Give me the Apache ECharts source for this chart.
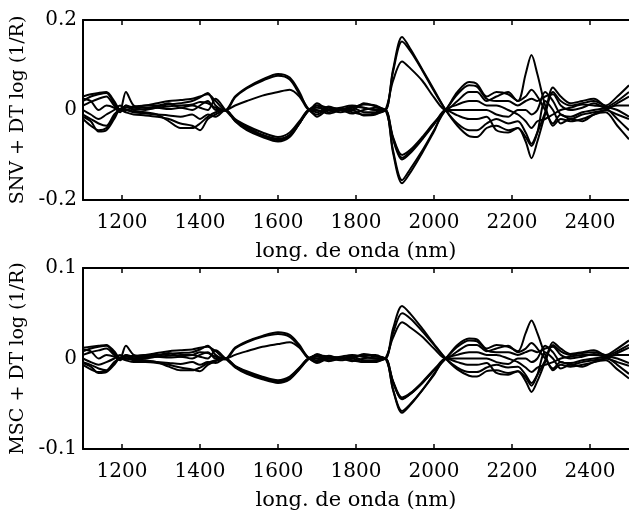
<!DOCTYPE html>
<html><head><meta charset="utf-8">
<script src="https://cdn.jsdelivr.net/npm/echarts@6/dist/echarts.min.js"></script>
<style>html,body{margin:0;padding:0;background:#fff}#c{width:629px;height:512px}</style>
</head><body><div id="c"></div>
<script>
// wavelength nodes (nm)
const wavelengths = [1100,1120,1140,1160,1180,1195,1210,1230,1260,1290,1320,1350,1380,1400,1420,1440,1465,1490,1520,1560,1600,1630,1655,1680,1700,1730,1760,1790,1820,1850,1875,1895,1918,1940,1970,2000,2030,2060,2090,2110,2135,2160,2190,2215,2235,2250,2265,2285,2305,2325,2350,2380,2410,2440,2470,2500];

// SNV + DT spectra (top panel)
const snv1 = [0.03,0.035,0.038,0.04,0.02,0.002,0.005,0.008,0.01,0.015,0.02,0.022,0.025,0.03,0.035,0.02,0,0.03,0.05,0.068,0.08,0.072,0.04,0.002,0.01,0.005,0,0.005,0.012,0.01,0,0.09,0.162,0.135,0.09,0.045,0,-0.035,-0.058,-0.06,-0.04,-0.035,-0.045,-0.04,-0.07,-0.107,-0.07,-0.01,0.04,0.02,0.01,0.015,0.02,0.01,0.03,0.055];
const snv2 = [0.02,0.03,0.035,0.038,0.015,0,0.04,0.01,0.005,0.008,0.012,0.015,0.02,0.028,0.038,0.01,-0.002,0.028,0.048,0.065,0.076,0.068,0.035,0,-0.01,0.005,0.003,0,0.015,0.008,0,0.085,0.152,0.13,0.088,0.042,0,-0.03,-0.045,-0.045,-0.03,-0.02,-0.03,-0.025,-0.05,-0.075,-0.05,-0.005,0.05,0.03,0.015,0.02,0.025,0.008,0,-0.015];
const snv3 = [0.01,0.018,0.025,0.03,0.01,0,0.01,0,0.002,0.005,0.008,0.01,0.012,0.018,0.015,0.005,0,0.01,0.02,0.032,0.04,0.045,0.03,0,0.015,0,0.002,-0.005,-0.01,-0.008,0,0.065,0.108,0.092,0.065,0.028,0,0.02,0.04,0.04,0.02,0.03,0.04,0.02,0.03,0.045,0.03,0,-0.03,-0.01,-0.02,-0.01,-0.005,0,0.015,0.03];
const snv4 = [-0.01,-0.02,-0.03,-0.035,-0.01,0,0,-0.005,-0.008,-0.01,-0.012,-0.015,-0.01,-0.02,-0.01,-0.015,0,-0.02,-0.035,-0.05,-0.06,-0.05,-0.025,0,-0.005,0.008,0,0.008,0.005,0,0,-0.06,-0.1,-0.088,-0.06,-0.028,0,0.04,0.062,0.058,0.03,0.04,0.035,0.02,0.08,0.122,0.08,0.01,-0.035,-0.02,-0.025,-0.02,-0.01,0,-0.01,-0.02];
const snv5 = [0,-0.01,-0.02,-0.01,0,0.01,0,0.005,0,0.005,0.002,0.005,0,0.01,0.02,0,0,-0.022,-0.038,-0.055,-0.064,-0.055,-0.028,0,0.01,-0.005,0,-0.008,0,0.005,0,-0.063,-0.106,-0.092,-0.063,-0.03,0,0.035,0.055,0.052,0.025,0.02,0.02,0.01,0.02,0.025,0.02,0.03,0.035,0.01,0,0.005,0.015,0.005,0.01,0.01];
const snv6 = [-0.02,-0.035,-0.045,-0.04,-0.015,0,-0.005,-0.01,-0.012,-0.015,-0.02,-0.03,-0.035,-0.045,-0.02,-0.01,0,-0.024,-0.042,-0.058,-0.067,-0.058,-0.03,0,-0.015,0,-0.005,0,-0.012,-0.01,0,-0.09,-0.156,-0.13,-0.09,-0.045,0,0.012,0.02,0.02,0.01,0.01,0,-0.01,-0.025,-0.04,-0.025,-0.02,-0.01,0,0.005,0.012,0.01,0.005,-0.02,-0.045];
const snv7 = [-0.015,-0.025,-0.048,-0.045,-0.02,0,0,-0.003,-0.005,-0.01,-0.025,-0.04,-0.04,-0.03,-0.015,-0.005,0,-0.025,-0.045,-0.06,-0.07,-0.06,-0.03,0,0.005,0,0.005,0.01,0.005,0,0,-0.095,-0.163,-0.138,-0.095,-0.048,0,-0.012,-0.02,-0.02,-0.015,-0.045,-0.05,-0.04,-0.06,-0.08,-0.05,0.02,0,-0.03,-0.02,-0.025,-0.01,-0.005,-0.035,-0.065];
const snv8 = [0.025,0.02,0,0.01,0.005,-0.005,0.01,0.005,0.01,0.01,0.015,0.005,0.01,0.005,0,0.025,0,-0.023,-0.04,-0.057,-0.065,-0.056,-0.03,0,0,-0.008,0,0.005,-0.005,-0.005,0,-0.065,-0.11,-0.095,-0.065,-0.032,0,0,0,0,0,-0.01,-0.015,0,0,-0.01,0,0.04,0.02,-0.01,-0.015,-0.005,0,0.005,0.02,0.04];

// MSC + DT spectra (bottom panel)
const msc1 = [0.012,0.013,0.014,0.015,0.008,0.001,0.002,0.003,0.004,0.006,0.008,0.009,0.01,0.012,0.013,0.008,0,0.012,0.019,0.025,0.029,0.026,0.015,0.001,0.004,0.002,0,0.002,0.004,0.004,0,0.033,0.058,0.049,0.033,0.016,0,-0.012,-0.019,-0.02,-0.014,-0.013,-0.016,-0.014,-0.025,-0.037,-0.025,-0.004,0.015,0.008,0.004,0.006,0.007,0.004,0.011,0.02];
const msc2 = [0.008,0.011,0.013,0.014,0.006,0,0.014,0.004,0.002,0.003,0.005,0.006,0.007,0.01,0.014,0.004,-0.001,0.011,0.018,0.024,0.027,0.024,0.013,0,-0.004,0.002,0.001,0,0.005,0.003,0,0.028,0.05,0.044,0.03,0.015,0,-0.01,-0.015,-0.015,-0.01,-0.007,-0.01,-0.009,-0.018,-0.027,-0.018,-0.002,0.018,0.011,0.005,0.007,0.009,0.003,0,-0.005];
const msc3 = [0.004,0.007,0.009,0.011,0.004,0,0.004,0,0.001,0.002,0.003,0.004,0.004,0.007,0.006,0.002,0,0.004,0.008,0.013,0.016,0.018,0.012,0,0.005,0,0.001,-0.002,-0.004,-0.003,0,0.023,0.04,0.034,0.024,0.011,0,0.008,0.015,0.015,0.008,0.011,0.014,0.007,0.011,0.017,0.011,0,-0.011,-0.004,-0.007,-0.004,-0.002,0,0.006,0.012];
const msc4 = [-0.004,-0.007,-0.011,-0.013,-0.004,0,0,-0.002,-0.003,-0.004,-0.005,-0.006,-0.004,-0.007,-0.004,-0.005,0,-0.008,-0.014,-0.02,-0.024,-0.02,-0.01,0,-0.002,0.003,0,0.003,0.002,0,0,-0.025,-0.043,-0.038,-0.026,-0.012,0,0.015,0.022,0.021,0.011,0.015,0.013,0.008,0.028,0.042,0.028,0.004,-0.013,-0.007,-0.009,-0.007,-0.004,0,-0.004,-0.008];
const msc5 = [0,-0.004,-0.007,-0.004,0,0.004,0,0.002,0,0.002,0.001,0.002,0,0.004,0.007,0,0,-0.009,-0.015,-0.021,-0.025,-0.021,-0.011,0,0.004,-0.002,0,-0.003,0,0.002,0,-0.026,-0.045,-0.039,-0.027,-0.013,0,0.013,0.02,0.019,0.009,0.007,0.007,0.004,0.007,0.009,0.007,0.011,0.013,0.004,0,0.002,0.005,0.002,0.004,0.004];
const msc6 = [-0.007,-0.012,-0.015,-0.014,-0.005,0,-0.002,-0.004,-0.004,-0.005,-0.007,-0.01,-0.012,-0.014,-0.007,-0.003,0,-0.009,-0.016,-0.022,-0.026,-0.022,-0.011,0,-0.005,0,-0.002,0,-0.004,-0.004,0,-0.034,-0.058,-0.05,-0.035,-0.017,0,0.004,0.007,0.007,0.004,0.004,0,-0.004,-0.01,-0.015,-0.01,-0.007,-0.004,0,0.002,0.004,0.004,0.002,-0.007,-0.017];
const msc7 = [-0.005,-0.009,-0.016,-0.015,-0.007,0,0,-0.001,-0.002,-0.004,-0.009,-0.013,-0.013,-0.01,-0.005,-0.002,0,-0.01,-0.017,-0.023,-0.027,-0.023,-0.012,0,0.002,0,0.002,0.004,0.002,0,0,-0.035,-0.06,-0.051,-0.035,-0.018,0,-0.004,-0.007,-0.007,-0.005,-0.016,-0.018,-0.014,-0.021,-0.03,-0.018,0.007,0,-0.011,-0.007,-0.009,-0.004,-0.002,-0.012,-0.022];
const msc8 = [0.01,0.008,0,0.004,0.002,-0.002,0.004,0.002,0.004,0.004,0.006,0.002,0.004,0.002,0,0.009,0,-0.009,-0.015,-0.021,-0.025,-0.021,-0.011,0,0,-0.003,0,0.002,-0.002,-0.002,0,-0.026,-0.045,-0.039,-0.027,-0.013,0,0,0,0,0,-0.004,-0.006,0,0,-0.004,0,0.014,0.007,-0.004,-0.005,-0.002,0,0.002,0.008,0.015];

const xTicks = [1200,1400,1600,1800,2000,2200,2400];
const yTicksTop = [-0.2,0,0.2];
const yTicksBottom = [-0.1,0,0.1];
const xName = 'long. de onda (nm)';
const yNameTop = 'SNV + DT log (1/R)';
const yNameBottom = 'MSC + DT log (1/R)';

const snvSet = [snv1,snv2,snv3,snv4,snv5,snv6,snv7,snv8];
const mscSet = [msc1,msc2,msc3,msc4,msc5,msc6,msc7,msc8];

const FONT = 'DejaVu Serif';
const chart = echarts.init(document.getElementById('c'), null, {renderer:'canvas'});

function xAxes(gridIndex){
  const line = {show:true, onZero:false, lineStyle:{color:'#000', width:2}};
  return [
    {type:'value', gridIndex, position:'bottom', min:1100, max:2500,
     axisLine:line,
     axisTick:{show:true, inside:true, length:5, customValues:xTicks, lineStyle:{color:'#000', width:1.5}},
     axisLabel:{show:true, customValues:xTicks, formatter:v=>String(v), color:'#000', fontFamily:FONT, fontSize:20, margin:13},
     splitLine:{show:false},
     name:xName, nameLocation:'middle', nameGap:41,
     nameTextStyle:{color:'#000', fontFamily:FONT, fontSize:21}},
    {type:'value', gridIndex, position:'top', min:1100, max:2500,
     axisLine:line,
     axisTick:{show:true, inside:true, length:5, customValues:xTicks, lineStyle:{color:'#000', width:1.5}},
     axisLabel:{show:false}, splitLine:{show:false}}
  ];
}
function yAxis(gridIndex, lim, ticks, name){
  return {type:'value', gridIndex, min:-lim, max:lim,
    axisLine:{show:true, onZero:false, lineStyle:{color:'#000', width:2}},
    axisTick:{show:false},
    axisLabel:{show:true, customValues:ticks, color:'#000', fontFamily:FONT, fontSize:20, margin:6},
    splitLine:{show:false},
    name, nameLocation:'middle', nameGap:52, nameRotate:90,
    nameTextStyle:{color:'#000', fontFamily:FONT, fontSize:19}};
}
const series = [];
snvSet.forEach(arr => series.push({type:'line', xAxisIndex:0, yAxisIndex:0, showSymbol:false, symbol:'none', smooth:0.3,
  lineStyle:{color:'#000', width:2}, data: wavelengths.map((w,i)=>[w, arr[i]])}));
mscSet.forEach(arr => series.push({type:'line', xAxisIndex:2, yAxisIndex:1, showSymbol:false, symbol:'none', smooth:0.3,
  lineStyle:{color:'#000', width:2}, data: wavelengths.map((w,i)=>[w, arr[i]])}));

chart.setOption({
  animation:false,
  backgroundColor:'#fff',
  grid:[{left:83, right:-6, top:20, height:180},
        {left:83, right:-6, top:268, height:181}],
  xAxis:[...xAxes(0), ...xAxes(1)],
  yAxis:[yAxis(0, 0.2, yTicksTop, yNameTop), yAxis(1, 0.1, yTicksBottom, yNameBottom)],
  series
});
</script></body></html>
